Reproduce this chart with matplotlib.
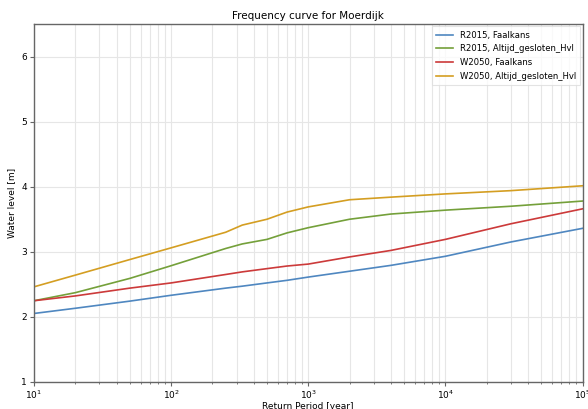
import matplotlib
matplotlib.use("Agg")
import matplotlib.pyplot as plt
from matplotlib.ticker import LogLocator

# Return periods [year]
return_period = [10, 20, 50, 100, 250, 330, 500, 700, 1000, 2000, 4000, 10000, 30000, 100000]

# Water levels [m] per scenario
r2015_faalkans = [2.05, 2.13, 2.24, 2.33, 2.44, 2.47, 2.52, 2.56, 2.61, 2.70, 2.79, 2.93, 3.15, 3.36]
r2015_altijd = [2.246, 2.37, 2.59, 2.785, 3.05, 3.12, 3.19, 3.29, 3.37, 3.50, 3.58, 3.64, 3.70, 3.78]
w2050_faalkans = [2.246, 2.32, 2.44, 2.52, 2.65, 2.69, 2.74, 2.78, 2.81, 2.92, 3.02, 3.19, 3.43, 3.66]
w2050_altijd = [2.46, 2.64, 2.88, 3.06, 3.30, 3.41, 3.50, 3.61, 3.69, 3.80, 3.84, 3.89, 3.94, 4.015]

labels = ["R2015, Faalkans", "R2015, Altijd_gesloten_Hvl",
          "W2050, Faalkans", "W2050, Altijd_gesloten_Hvl"]
colors = ["#4f87c0", "#74a03a", "#cc3a3a", "#d49e22"]

plt.rcParams["font.family"] = "DejaVu Sans"

W, H = 588, 409
fig = plt.figure(figsize=(W / 100, H / 100), dpi=100)
left, right, top, bottom = 34, 582.5, 24.3, 381.7
ax = fig.add_axes([left / W, 1 - bottom / H, (right - left) / W, (bottom - top) / H])

for series, lab, col in zip([r2015_faalkans, r2015_altijd, w2050_faalkans, w2050_altijd], labels, colors):
    ax.plot(return_period, series, color=col, lw=1.2, label=lab)

ax.set_xscale("log")
ax.set_xlim(10, 1e5)
ax.set_ylim(1, 6.5)
ax.set_yticks([1, 2, 3, 4, 5, 6])
ax.xaxis.set_minor_locator(LogLocator(base=10, subs=range(2, 10)))

ax.grid(True, which="major", color="#e6e6e6", lw=0.8)
ax.grid(True, which="minor", axis="x", color="#e6e6e6", lw=0.8)
ax.set_axisbelow(True)

for s in ax.spines.values():
    s.set_color("#666666")
    s.set_linewidth(1.0)

ax.tick_params(axis="both", which="major", labelsize=6.5, length=3, color="#666666", pad=2)
ax.tick_params(axis="x", which="minor", length=1.5, color="#666666")

ax.set_title("Frequency curve for Moerdijk", fontsize=7.5, pad=4)
ax.set_xlabel("Return Period [year]", fontsize=6.5, labelpad=1)
ax.set_ylabel("Water level [m]", fontsize=6.5, labelpad=4)

leg = ax.legend(loc="upper right", fontsize=6.1, frameon=True, fancybox=False,
                borderpad=0.5, handlelength=2.0, labelspacing=0.55,
                borderaxespad=0.25, handletextpad=0.8)
leg.get_frame().set_edgecolor("#dddddd")
leg.get_frame().set_linewidth(0.8)

fig.savefig("out.png", dpi=100)
